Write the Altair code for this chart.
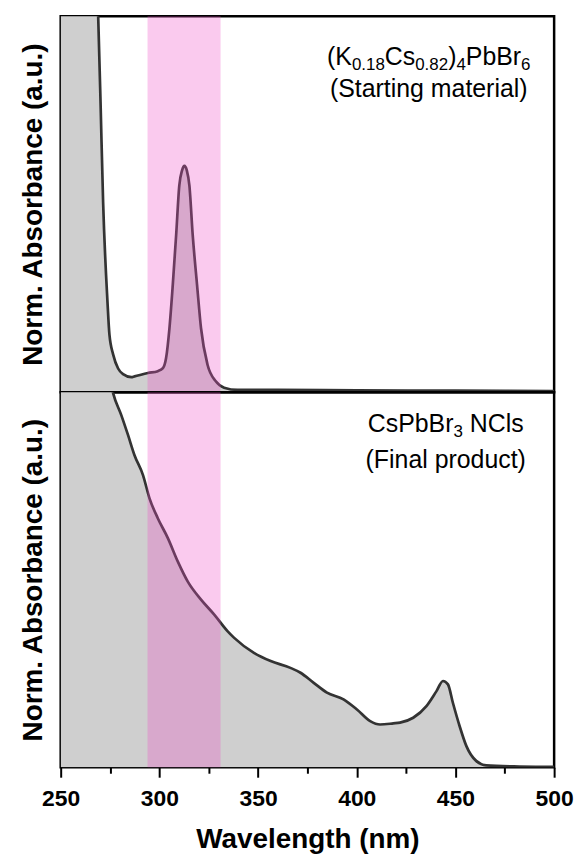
import altair as alt
import pandas as pd

# ---- data ----
top_nm = [250, 262, 267, 269.0, 270.2, 271.5, 273.7, 274.7, 276.6, 279.1, 281.6, 285.8, 287.4,
          294.2, 299.2, 301.8, 303.4, 305.1, 306.8, 308.5, 310.1, 311.5, 312.7, 313.9, 315.2,
          316.9, 319.1, 321.1, 324.4, 328.6, 332.8, 339.6, 360, 400, 450, 500]
top_abs = [3.0, 2.0, 1.3, 1.0, 0.77, 0.505, 0.241, 0.153, 0.10, 0.063, 0.048, 0.04, 0.042,
           0.051, 0.056, 0.064, 0.091, 0.17, 0.286, 0.418, 0.55, 0.59, 0.602, 0.59, 0.55,
           0.417, 0.285, 0.17, 0.073, 0.029, 0.012, 0.006, 0.006, 0.005, 0.004, 0.003]

bot_nm = [250, 270, 276.6, 280.7, 284.1, 287.4, 291.7, 295.0, 299.2, 304.3, 309.3, 314.4, 321.1,
          327.8, 334.5, 337.9, 347.9, 356.4, 366.4, 371.5, 378.2, 384.9, 393.3, 400.1, 406.8,
          411.8, 418.5, 421.9, 428.6, 435.3, 440.4, 443.7, 446.2, 448.7, 452.1, 455.5, 460.5,
          465.6, 482.4, 499.0, 500]
bot_abs = [2.0, 1.2, 0.997, 0.939, 0.886, 0.832, 0.779, 0.717, 0.664, 0.611, 0.549, 0.495, 0.447,
           0.407, 0.363, 0.345, 0.305, 0.283, 0.265, 0.252, 0.225, 0.199, 0.181, 0.154, 0.123,
           0.114, 0.117, 0.119, 0.132, 0.163, 0.203, 0.230, 0.221, 0.172, 0.110, 0.057, 0.017,
           0.005, 0.002, 0.001, 0.001]

band_lo = [294]
band_hi = [331]

x_ticks = list(range(250, 501, 25))

top_label1 = [("(K", "main"), ("0.18", "sub"), ("Cs", "main"), ("0.82", "sub"), (")", "main"),
              ("4", "sub"), ("PbBr", "main"), ("6", "sub")]
top_label2 = "(Starting material)"
bot_label1 = [("CsPbBr", "main"), ("3", "sub"), (" ", "main"), ("NCls", "main")]
bot_label2 = "(Final product)"

# ---- styling ----
FONT = "Liberation Sans"
W = 496
H_TOP = 378
H_BOT = 377
MAIN_FS = 25
SUB_FS = 17
SUB_DY = 5

# Arial-compatible advance widths (per 1000 em)
ADV = {"(": 333, ")": 333, "K": 667, "C": 722, "s": 500, "P": 667, "b": 556, "B": 667,
       "r": 333, ".": 278, " ": 278, "N": 722, "l": 222}
for d in "0123456789":
    ADV[d] = 556


def text_width(t, fs):
    return sum(ADV.get(c, 556) for c in t) / 1000.0 * fs


def label_layers(pieces, cx, base_y, line2, y2):
    widths = [text_width(t, MAIN_FS if k == "main" else SUB_FS) for t, k in pieces]
    x = cx - sum(widths) / 2.0
    layers = []
    for (t, k), w in zip(pieces, widths):
        if t.strip():
            fs = MAIN_FS if k == "main" else SUB_FS
            dy = 0 if k == "main" else SUB_DY
            layers.append(
                alt.Chart(pd.DataFrame({"t": [t]})).mark_text(
                    align="left", baseline="alphabetic", font=FONT, fontSize=fs, color="black"
                ).encode(text="t:N", x=alt.value(x), y=alt.value(base_y + dy))
            )
        x += w
    layers.append(
        alt.Chart(pd.DataFrame({"t": [line2]})).mark_text(
            align="center", baseline="alphabetic", font=FONT, fontSize=MAIN_FS, color="black"
        ).encode(text="t:N", x=alt.value(cx), y=alt.value(y2))
    )
    return layers


xscale = alt.Scale(domain=[250, 500], nice=False, zero=False)
yscale = alt.Scale(domain=[0, 1], nice=False, zero=False)

y_axis = alt.Axis(title="Norm. Absorbance (a.u.)", labels=False, ticks=False, domain=False,
                  grid=False, titleFont=FONT, titleFontSize=28, titleFontWeight="bold",
                  titleColor="black", titlePadding=13)

x_axis_bottom = alt.Axis(
    title="Wavelength (nm)", values=x_ticks,
    labelExpr="datum.value % 50 === 0 ? datum.label : ''",
    grid=False, domain=False, tickColor="black", tickWidth=2,
    tickSize={"condition": {"test": "datum.value % 50 === 0", "value": 10}, "value": 6},
    labelFont=FONT, labelFontSize=23, labelFontWeight="bold", labelColor="black",
    labelPadding=10, labelFlush=False, labelOverlap=False,
    titleFont=FONT, titleFontSize=28, titleFontWeight="bold", titleColor="black",
    titlePadding=16,
)


def panel(nm, ab, x_axis, height, labels):
    df = pd.DataFrame({"nm": nm, "a": ab})
    band = pd.DataFrame({"nm": band_lo, "hi": band_hi, "y0": [0], "y1": [1]})
    xe = alt.X("nm:Q", scale=xscale, axis=x_axis)
    ye = alt.Y("a:Q", scale=yscale, axis=y_axis)
    area = alt.Chart(df).mark_area(color="#cfcfcf", clip=True, interpolate="monotone").encode(x=xe, y=ye)
    line = alt.Chart(df).mark_line(color="#333333", strokeWidth=2.7, clip=True,
                                   interpolate="monotone").encode(x=xe, y=ye)
    rect = alt.Chart(band).mark_rect(color="#f050c8", opacity=0.3).encode(
        x=alt.X("nm:Q", scale=xscale, axis=x_axis), x2="hi:Q",
        y=alt.Y("y0:Q", scale=yscale, axis=y_axis), y2="y1:Q")
    return alt.layer(area, line, rect, *labels).properties(width=W, height=height)


top = panel(top_nm, top_abs, None, H_TOP,
            label_layers(top_label1, 370, 49, top_label2, 81))
bottom = panel(bot_nm, bot_abs, x_axis_bottom, H_BOT,
               label_layers(bot_label1, 387, 40, bot_label2, 76))

chart = alt.vconcat(top, bottom, spacing=0, bounds="flush").properties(
    padding={"left": 18, "top": 12, "right": 4, "bottom": 1},
    background="white",
).configure_view(stroke="black", strokeWidth=2.5)

chart.save("out.html", embed_options={"renderer": "svg", "actions": False})
